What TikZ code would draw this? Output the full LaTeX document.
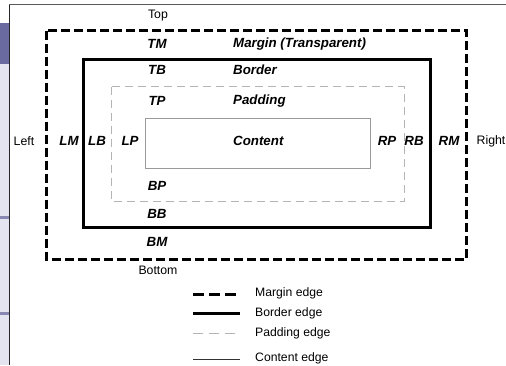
\documentclass[tikz,border=0pt]{standalone}
\usepackage{fontspec}
\setmainfont{Liberation Sans}
\begin{document}
\begin{tikzpicture}[x=1pt,y=-1pt,
  lbl/.style={font=\fontsize{13.3}{15}\selectfont\bfseries\itshape, inner sep=0pt},
  side/.style={font=\fontsize{12.3}{14}\selectfont, inner sep=0pt},
  legtxt/.style={font=\fontsize{12.2}{14}\selectfont, anchor=west, inner sep=0pt},
  marginedge/.style={line width=3pt, dash pattern=on 9pt off 4pt},
  borderedge/.style={line width=3pt},
  paddingedge/.style={line width=0.8pt, color=padgray, dash pattern=on 8pt off 5pt},
  contentedge/.style={line width=0.8pt, color=congray}]
\definecolor{padgray}{HTML}{B4B4B4}
\definecolor{congray}{HTML}{9A9A9A}
\definecolor{lav}{HTML}{E4E4F0}
\definecolor{purp}{HTML}{6A6AA0}
\useasboundingbox (0,0) rectangle (506,365);
% screenshot frame
\fill[lav] (0,64) rectangle (9,365);
\fill[purp] (0,23) rectangle (9,64);
\fill[purp!80] (0,216) rectangle (9,218.5);
\fill[purp!80] (0,312) rectangle (9,314.5);
\draw[line width=1.2pt, black!85] (9.6,4.5) -- (9.6,365);
\draw[line width=1pt, black!65] (9,4.5) -- (506,4.5);
% boxes
\draw[marginedge] (46.5,30.5) rectangle (466.5,259);
\draw[borderedge] (83.5,59.5) rectangle (430,227.5);
\draw[paddingedge] (111,86.5) rectangle (404,201);
\draw[contentedge] (145.5,118.5) rectangle (370,168.5);
% labels
\node[side] (top) at (158,16) {Top};
\node[side] (bottom) at (158,270) {Bottom};
\node[side] (left) at (24,141) {Left};
\node[side] (right) at (491,141) {Right};
\node[lbl] (tm) at (157,44) {TM};
\node[lbl] (tb) at (157,70) {TB};
\node[lbl] (tp) at (157,101) {TP};
\node[lbl] (bp) at (157,186) {BP};
\node[lbl] (bb) at (157,214) {BB};
\node[lbl] (bm) at (157,242) {BM};
\node[lbl] (lm) at (69,141) {LM};
\node[lbl] (lb) at (97,141) {LB};
\node[lbl] (lp) at (130,141) {LP};
\node[lbl] (rp) at (387,141) {RP};
\node[lbl] (rb) at (414,141) {RB};
\node[lbl] (rm) at (449,141) {RM};
\node[lbl, anchor=west] (mt) at (233,44) {Margin (Transparent)};
\node[lbl, anchor=west] (bt) at (233,70) {Border};
\node[lbl, anchor=west] (pt) at (233,101) {Padding};
\node[lbl, anchor=west] (ct) at (233,141) {Content};
% legend
\coordinate (m1) at (193,294); \coordinate (m2) at (240,294);
\coordinate (b1) at (193,313); \coordinate (b2) at (240,313);
\coordinate (p1) at (193,333); \coordinate (p2) at (240,333);
\coordinate (c1) at (193,359); \coordinate (c2) at (240,359);
\draw[line width=3pt, dash pattern=on 11pt off 5pt] (m1) -- (m2);
\draw[line width=3pt] (b1) -- (b2);
\draw[line width=0.8pt, color=padgray, dash pattern=on 10pt off 6pt] (p1) -- (p2);
\draw[line width=0.8pt, black!80] (c1) -- (c2);
\node[legtxt] (lm1) at (255,293) {Margin edge};
\node[legtxt] (lb1) at (255,313) {Border edge};
\node[legtxt] (lp1) at (255,333) {Padding edge};
\node[legtxt] (lc1) at (255,358) {Content edge};
\end{tikzpicture}
\end{document}
